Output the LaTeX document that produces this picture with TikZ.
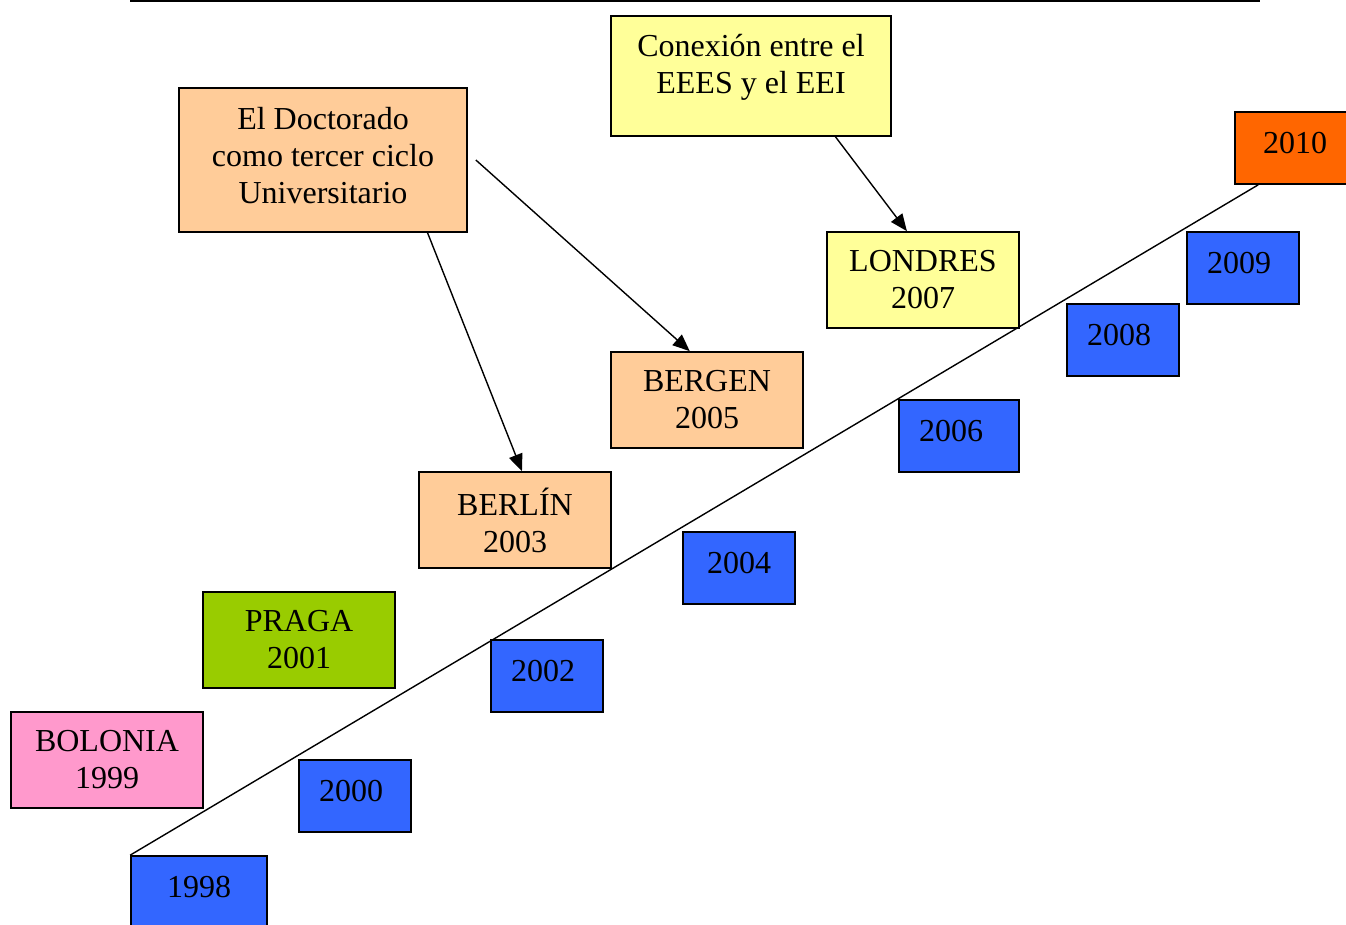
\documentclass[tikz,border=0pt]{standalone}
\usepackage{fontspec}
\setmainfont{Liberation Serif}
\usetikzlibrary{calc,arrows.meta}
\definecolor{yearblue}{HTML}{3366FF}
\definecolor{peach}{HTML}{FFCC99}
\definecolor{paleyellow}{HTML}{FFFF99}
\definecolor{lastyear}{HTML}{FF6600}
\definecolor{pragagreen}{HTML}{99CC00}
\definecolor{bolpink}{HTML}{FF99CC}
\begin{document}
\begin{tikzpicture}[x=1pt,y=-1pt,
  box/.style={draw=black, line width=1.7pt, inner sep=0pt, align=center,
    font=\fontsize{32}{37}\selectfont},
  yearbox/.style={box, fill=yearblue, minimum width=112pt, minimum height=72pt,
    text height=22pt, text depth=11pt},
  % moves the label a little to the left inside its box
  nudge/.style={execute at end node={\hspace*{#1}}},
  citybox/.style={box, minimum width=192pt, minimum height=96pt},
  link/.style={line width=1.4pt, -{Triangle[length=17pt,width=14pt]}},
]
\useasboundingbox (0,0) rectangle (1346,924);

% rule across the top
\draw[line width=2pt] (130,1) -- (1260,1);

% year boxes along the time line
\node[yearbox, minimum width=136pt] (y1998) at (199,892) {1998};
\node[yearbox, nudge=8pt] (y2000) at (355,796) {2000};
\node[yearbox, nudge=8pt] (y2002) at (547,676) {2002};
\node[yearbox] (y2004) at (739,568) {2004};
\node[yearbox, minimum width=120pt, nudge=16pt] (y2006) at (959,436) {2006};
\node[yearbox, nudge=8pt] (y2008) at (1123,340) {2008};
\node[yearbox, nudge=8pt] (y2009) at (1243,268) {2009};
\node[yearbox, fill=lastyear, minimum width=120pt] (y2010) at (1295,148) {2010};

% the time line itself
\draw[line width=1.4pt] (y1998.north west) -- ($(y2010.south west)+(24,0)$);

% meetings
\node[citybox, fill=bolpink] (bolonia) at (107,760) {BOLONIA\\1999};
\node[citybox, fill=pragagreen] (praga) at (299,640) {PRAGA\\2001};
\node[citybox, fill=peach] (berlin) at (515,520) {BERLÍN\\2003};
\node[citybox, fill=peach] (bergen) at (707,400) {BERGEN\\2005};
\node[citybox, fill=paleyellow] (londres) at (923,280) {LONDRES\\2007};

% themes
\node[box, fill=peach, minimum width=288pt, minimum height=144pt, text depth=10pt]
  (doct) at (323,160) {El Doctorado\\como tercer ciclo\\Universitario};
\node[box, fill=paleyellow, minimum width=280pt, minimum height=120pt, text depth=24pt]
  (conex) at (751,76) {Conexión entre el\\EEES y el EEI};

% links from themes to meetings
\draw[link] ($(doct.south west)!0.861!(doct.south east)$)
  -- ($(berlin.north west)!0.536!(berlin.north east)$);
\draw[link] ($(doct.east)+(8,0)$)
  -- ($(bergen.north west)!0.411!(bergen.north east)$);
\draw[link] ($(conex.south west)!0.8!(conex.south east)$)
  -- ($(londres.north west)!0.417!(londres.north east)$);
\end{tikzpicture}
\end{document}
